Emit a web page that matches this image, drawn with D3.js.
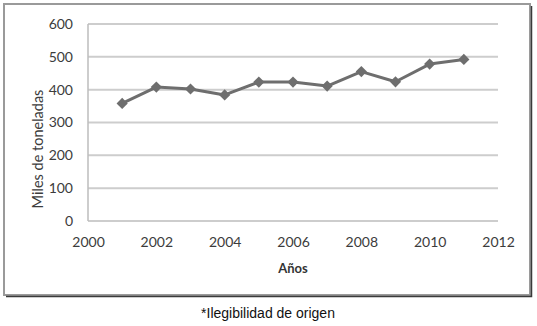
<!DOCTYPE html>
<html>
<head>
<meta charset="utf-8">
<script src="https://cdn.jsdelivr.net/npm/d3@7"></script>
<style>
  body { margin: 0; background: #fff; }
  svg { display: block; }
</style>
</head>
<body>
<div id="chart"></div>
<script>
// Toneladas por año (miles)
const years = [2001, 2002, 2003, 2004, 2005, 2006, 2007, 2008, 2009, 2010, 2011];
const values = [358, 408, 402, 384, 423, 423, 411, 455, 424, 478, 492];
const yTicks = [0, 100, 200, 300, 400, 500, 600];
const xTicks = [2000, 2002, 2004, 2006, 2008, 2010, 2012];

const W = 537, H = 326;
const margin = { top: 24, right: 39, bottom: 105, left: 88 };

const svg = d3.select("#chart").append("svg")
  .attr("width", W)
  .attr("height", H);

// outer frame
svg.append("rect")
  .attr("x", 4).attr("y", 4)
  .attr("width", 526).attr("height", 291)
  .attr("fill", "#fff")
  .attr("stroke", "#9a9a9a")
  .attr("stroke-width", 2);
svg.append("path")
  .attr("d", "M6,296.5 H531.5 V6")
  .attr("fill", "none")
  .attr("stroke", "#3a3a3a")
  .attr("stroke-width", 1.5);

const x = d3.scaleLinear().domain([2000, 2012]).range([margin.left, W - margin.right]);
const y = d3.scaleLinear().domain([0, 600]).range([H - margin.bottom, margin.top]);

const font = "Lato, 'Open Sans', sans-serif";

// gridlines
svg.selectAll(".grid")
  .data(yTicks)
  .join("line")
  .attr("class", "grid")
  .attr("x1", x(2000)).attr("x2", x(2012))
  .attr("y1", d => y(d)).attr("y2", d => y(d))
  .attr("stroke", "#cdcdcd")
  .attr("stroke-width", 2);

// left axis line
svg.append("line")
  .attr("x1", x(2000)).attr("x2", x(2000))
  .attr("y1", y(600)).attr("y2", y(0))
  .attr("stroke", "#bdbdbd")
  .attr("stroke-width", 1.5);

// y tick labels
const yAxis = svg.append("g")
  .attr("transform", `translate(${x(2000) - 15},0)`)
  .call(d3.axisLeft(y).tickValues(yTicks).tickSize(0).tickPadding(0));
yAxis.select(".domain").remove();
yAxis.selectAll("text")
  .style("font-family", font)
  .style("font-size", "14px")
  .attr("fill", "#3c3c3c");

// x tick labels
const xAxis = svg.append("g")
  .attr("transform", `translate(0,${y(0) + 16})`)
  .call(d3.axisBottom(x).tickValues(xTicks).tickFormat(d3.format("d")).tickSize(0).tickPadding(0));
xAxis.select(".domain").remove();
xAxis.selectAll("text")
  .style("font-family", font)
  .style("font-size", "14px")
  .attr("fill", "#3c3c3c");

// axis titles
svg.append("text")
  .attr("x", x(2006))
  .attr("y", 273)
  .attr("text-anchor", "middle")
  .style("font-family", font)
  .style("font-size", "13px")
  .style("font-weight", "bold")
  .attr("fill", "#333")
  .text("Años");

svg.append("text")
  .attr("transform", "translate(43,149) rotate(-90)")
  .attr("text-anchor", "middle")
  .style("font-family", font)
  .style("font-size", "14.5px")
  .attr("fill", "#3c3c3c")
  .text("Miles de toneladas");

// line
const data = years.map((yr, i) => ({ year: yr, value: values[i] }));
const line = d3.line().x(d => x(d.year)).y(d => y(d.value));

svg.append("path")
  .datum(data)
  .attr("d", line)
  .attr("fill", "none")
  .attr("stroke", "#6e6e6e")
  .attr("stroke-width", 3)
  .attr("stroke-linejoin", "round");

svg.selectAll(".pt")
  .data(data)
  .join("path")
  .attr("class", "pt")
  .attr("d", d3.symbol(d3.symbolDiamond2, 80))
  .attr("transform", d => `translate(${x(d.year)},${y(d.value)})`)
  .attr("fill", "#6e6e6e");

// caption
svg.append("text")
  .attr("x", 268)
  .attr("y", 318)
  .attr("text-anchor", "middle")
  .style("font-family", "'Liberation Sans', Arial, sans-serif")
  .style("font-size", "14px")
  .attr("fill", "#111")
  .text("*Ilegibilidad de origen");
</script>
</body>
</html>
